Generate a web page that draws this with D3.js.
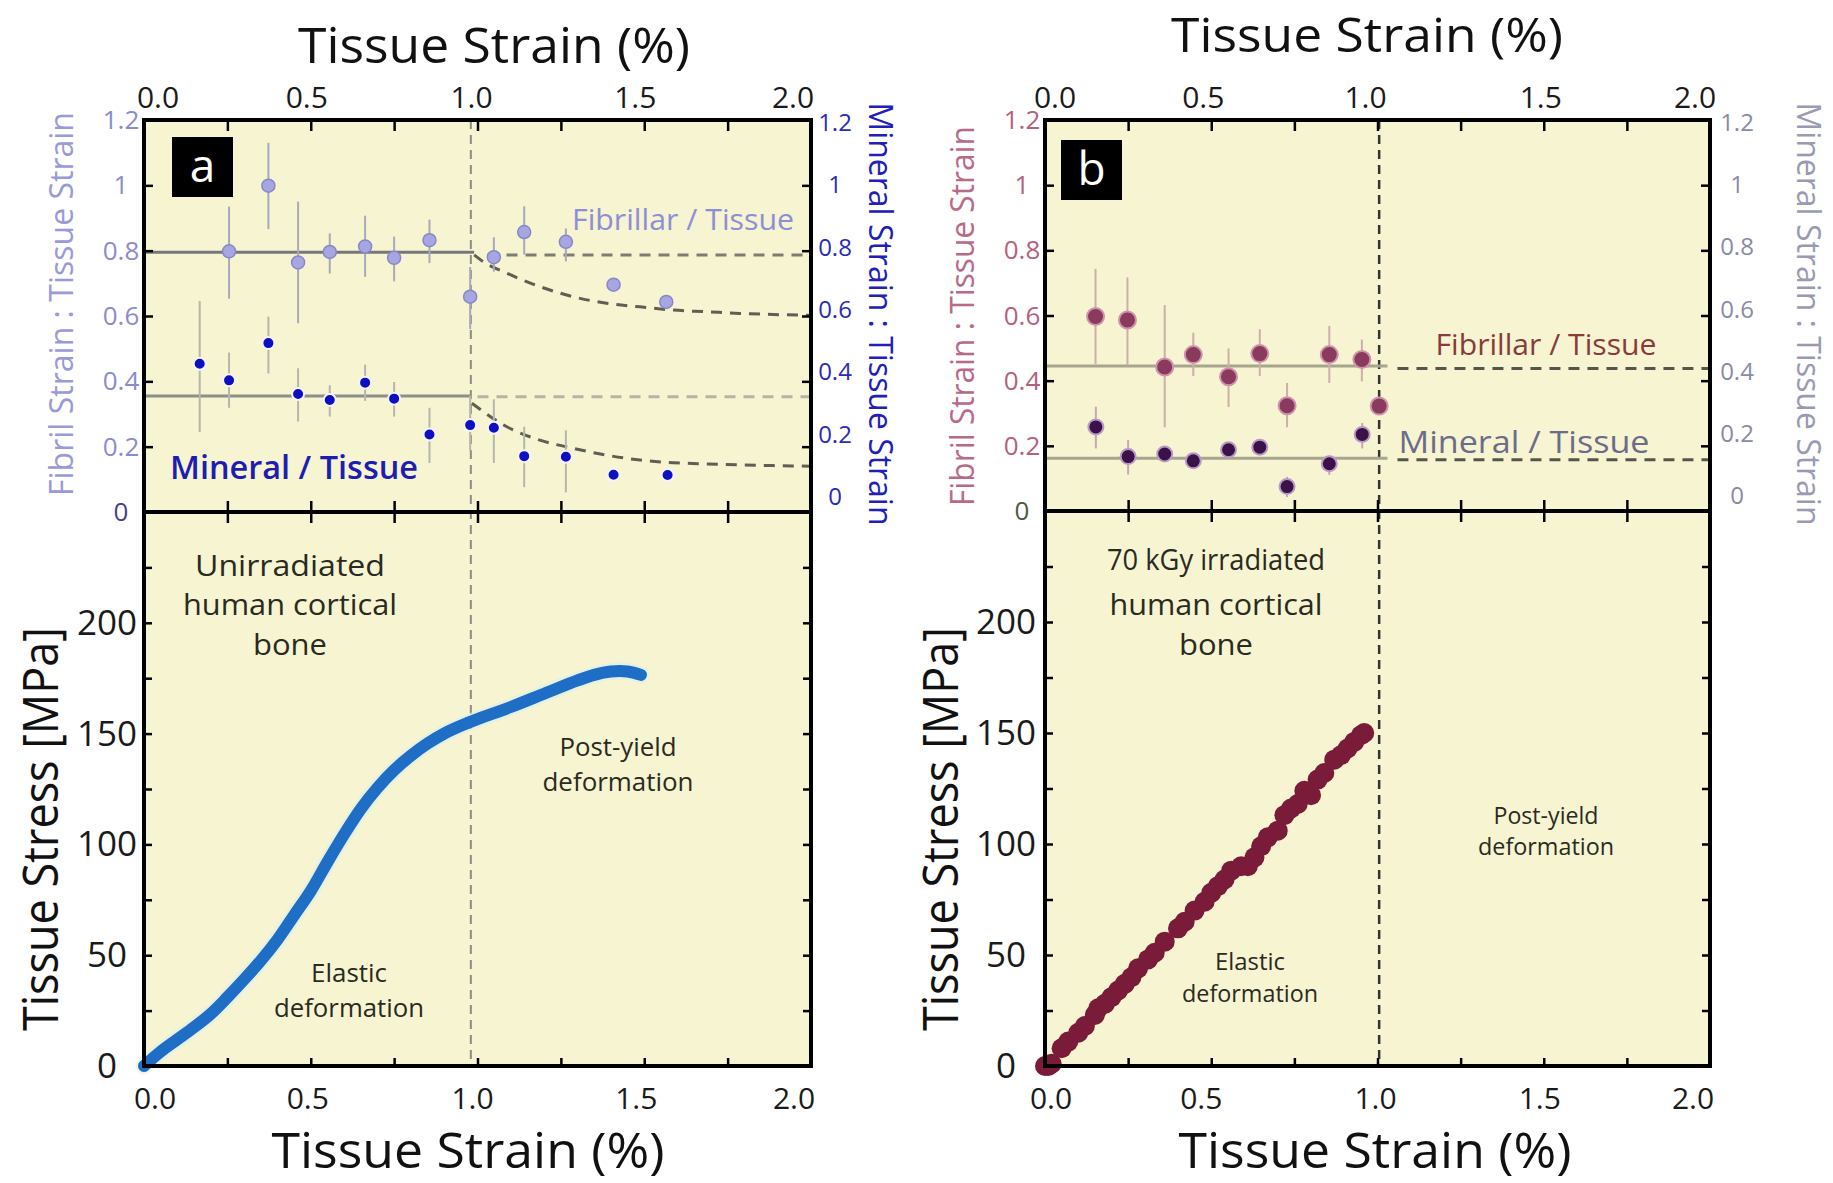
<!DOCTYPE html>
<html><head><meta charset="utf-8">
<script src="https://cdn.jsdelivr.net/npm/d3@7"></script>
<style>
body{margin:0;background:#fff}
svg{display:block}
text{font-family:'Open Sans',sans-serif}
</style>
</head><body>
<svg id="c" width="1833" height="1183"></svg>
<script>
// ---------------- DATA ----------------
const strainTicks = [0, 0.5, 1.0, 1.5, 2.0];
const strainTickLabels = ["0.0", "0.5", "1.0", "1.5", "2.0"];
const strainMinorTicks = [0, 0.25, 0.5, 0.75, 1.0, 1.25, 1.5, 1.75, 2.0];
const ratioTicks = [0, 0.2, 0.4, 0.6, 0.8, 1.0, 1.2];
const ratioTickLabels = ["0", "0.2", "0.4", "0.6", "0.8", "1", "1.2"];
const stressTicks = [0, 50, 100, 150, 200];
const stressTickLabels = ["0", "50", "100", "150", "200"];
const stressMinorTicks = [0, 25, 50, 75, 100, 125, 150, 175, 200, 225, 250];

// Panel a – fibrillar / tissue strain ratio
const aFibX  = [0.255, 0.373, 0.462, 0.557, 0.663, 0.750, 0.856, 0.978, 1.049, 1.140, 1.265, 1.408, 1.566];
const aFibY  = [0.798, 0.999, 0.764, 0.796, 0.813, 0.778, 0.832, 0.659, 0.780, 0.857, 0.827, 0.696, 0.643];
const aFibHi = [0.935, 1.130, 0.950, 0.853, 0.907, 0.843, 0.895, 0.750, 0.841, 0.936, 0.868, 0.696, 0.643];
const aFibLo = [0.653, 0.866, 0.578, 0.730, 0.720, 0.706, 0.762, 0.560, 0.736, 0.788, 0.767, 0.696, 0.643];
// Panel a – mineral / tissue strain ratio
const aMinX  = [0.167, 0.255, 0.373, 0.462, 0.557, 0.663, 0.750, 0.856, 0.978, 1.049, 1.140, 1.265, 1.408, 1.570];
const aMinY  = [0.454, 0.403, 0.517, 0.361, 0.343, 0.396, 0.347, 0.237, 0.266, 0.258, 0.171, 0.169, 0.114, 0.113];
const aMinHi = [0.646, 0.488, 0.598, 0.440, 0.388, 0.451, 0.398, 0.319, 0.356, 0.345, 0.261, 0.250, 0.114, 0.113];
const aMinLo = [0.245, 0.319, 0.424, 0.277, 0.292, 0.340, 0.292, 0.150, 0.187, 0.150, 0.076, 0.060, 0.114, 0.113];
// Panel a – fitted lines
const aFibMean = 0.795, aFibMeanPost = 0.787;
const aMinMean = 0.355, aMinMeanPost = 0.353;
const aFibDecayX = [0.99, 1.017, 1.088, 1.187, 1.287, 1.387, 1.487, 1.587, 1.687, 1.787, 2.0];
const aFibDecayY = [0.787, 0.766, 0.731, 0.690, 0.659, 0.639, 0.628, 0.618, 0.613, 0.608, 0.602];
const aMinDecayX = [0.983, 1.088, 1.187, 1.287, 1.387, 1.487, 1.587, 1.687, 1.887, 2.0];
const aMinDecayY = [0.333, 0.261, 0.220, 0.195, 0.174, 0.159, 0.151, 0.147, 0.142, 0.140];
const aYieldStrain = 0.98;
// Panel a – stress-strain curve (unirradiated)
const aStrain = [0, 0.05, 0.1, 0.15, 0.2, 0.25, 0.3, 0.35, 0.4, 0.45, 0.5, 0.55, 0.6, 0.65, 0.7, 0.75, 0.8, 0.85, 0.9, 0.95, 1.0, 1.1, 1.2, 1.3, 1.35, 1.4, 1.45, 1.49];
const aStress = [0, 6.5, 12, 17.5, 23.5, 31, 39, 47.5, 57, 68, 79, 92, 104.5, 116, 125.5, 133.5, 140, 145.5, 150, 153.5, 156.5, 162, 168, 174, 176.5, 178, 178, 176.5];

// Panel b – fibrillar / tissue strain ratio
const bFibX  = [0.152, 0.248, 0.360, 0.446, 0.552, 0.646, 0.728, 0.855, 0.953, 1.005];
const bFibY  = [0.597, 0.586, 0.442, 0.480, 0.412, 0.483, 0.323, 0.480, 0.465, 0.322];
const bFibHi = [0.743, 0.717, 0.632, 0.547, 0.499, 0.558, 0.393, 0.568, 0.526, 0.322];
const bFibLo = [0.451, 0.446, 0.257, 0.414, 0.319, 0.414, 0.257, 0.393, 0.398, 0.322];
// Panel b – mineral / tissue strain ratio
const bMinX  = [0.153, 0.250, 0.360, 0.446, 0.552, 0.646, 0.728, 0.855, 0.954];
const bMinY  = [0.258, 0.167, 0.175, 0.154, 0.188, 0.196, 0.075, 0.145, 0.235];
const bMinHi = [0.320, 0.218, 0.190, 0.160, 0.205, 0.215, 0.105, 0.170, 0.270];
const bMinLo = [0.192, 0.112, 0.160, 0.148, 0.170, 0.180, 0.043, 0.111, 0.192];
const bFibMean = 0.445, bFibMeanPost = 0.437;
const bMinMean = 0.162, bMinMeanPost = 0.157;
const bYieldStrain = 1.005;
// Panel b – stress-strain points (70 kGy irradiated)
const bStrain = [0.00, 0.01, 0.02, 0.05, 0.07, 0.10, 0.12, 0.15, 0.16, 0.18, 0.20, 0.22, 0.24, 0.26, 0.28, 0.31, 0.33, 0.36, 0.40, 0.42, 0.45, 0.48, 0.50, 0.52, 0.54, 0.56, 0.59, 0.61, 0.63, 0.65, 0.67, 0.70, 0.72, 0.74, 0.76, 0.78, 0.80, 0.82, 0.84, 0.87, 0.89, 0.91, 0.93, 0.95, 0.96];
const bStress = [0, 0, 1, 8, 11, 15, 18, 23, 26, 28, 31, 34, 37, 40, 44, 48, 51, 56, 62, 65, 70, 74, 78, 81, 84, 88, 90, 90, 94, 99, 103, 106, 113, 116, 118, 124, 122, 129, 132, 138, 140, 143, 146, 149, 150];

// ---------------- DRAWING ----------------
const svg = d3.select('#c');
svg.append('rect').attr('width', 1833).attr('height', 1183).attr('fill', '#fff');

function fit(sel, w) { sel.attr('textLength', w).attr('lengthAdjust', 'spacingAndGlyphs'); return sel; }
function zip(xs, ys) { return xs.map((v, i) => [v, ys[i]]); }

function drawPanel(c) {
  const g = svg.append('g');
  const x = d3.scaleLinear().domain([0, 2]).range([c.L, c.R]);
  const yU = d3.scaleLinear().domain([0, 1.2]).range([c.M, c.T]);
  const yRlab = d3.scaleLinear().domain([0, 1.2]).range([c.M - 15, c.T + 3]);
  const yS = d3.scaleLinear().domain([0, 250]).range([c.B, c.M]);

  g.append('rect').attr('x', c.L).attr('y', c.T).attr('width', c.R - c.L).attr('height', c.B - c.T).attr('fill', '#f6f4d1');

  // yield line
  g.append('line').attr('x1', x(c.yield)).attr('x2', x(c.yield)).attr('y1', c.T).attr('y2', c.B)
    .attr('stroke', c.yieldColor).attr('stroke-width', c.yieldWidth).attr('stroke-dasharray', '9,6');

  // fitted lines
  const line = d3.line().x(d => x(d[0])).y(d => yU(d[1]));
  const smooth = d3.line().x(d => x(d[0])).y(d => yU(d[1])).curve(d3.curveMonotoneX);
  c.solid.forEach(s => g.append('path').attr('d', line([[0, s.v], [s.end, s.v]])).attr('fill', 'none')
    .attr('stroke', s.color).attr('stroke-width', 3));
  c.dashed.forEach(s => g.append('path').attr('d', line([[s.start, s.v], [2, s.v]])).attr('fill', 'none')
    .attr('stroke', s.color).attr('stroke-width', 3).attr('stroke-dasharray', '11,8'));
  (c.decay || []).forEach(s => g.append('path').attr('d', smooth(zip(s.x, s.y))).attr('fill', 'none')
    .attr('stroke', s.color).attr('stroke-width', 3).attr('stroke-dasharray', '11,8'));

  // error bars and markers
  c.series.forEach(s => {
    s.x.forEach((xv, i) => {
      if (s.hi[i] - s.lo[i] > 0.005)
        g.append('line').attr('x1', x(xv)).attr('x2', x(xv)).attr('y1', yU(s.hi[i])).attr('y2', yU(s.lo[i]))
          .attr('stroke', s.err).attr('stroke-width', 2);
    });
    g.selectAll(null).data(zip(s.x, s.y)).enter().append('circle')
      .attr('cx', d => x(d[0])).attr('cy', d => yU(d[1])).attr('r', s.r)
      .attr('fill', s.fill).attr('stroke', s.stroke).attr('stroke-width', s.sw);
  });

  // stress-strain
  if (c.curve) {
    const cl = d3.line().x(d => x(d[0])).y(d => yS(d[1])).curve(d3.curveCatmullRom);
    const data = zip(c.curve.x, c.curve.y);
    g.append('path').attr('d', cl(data)).attr('fill', 'none').attr('stroke', '#dcefee').attr('stroke-width', 17)
      .attr('stroke-linecap', 'round').attr('opacity', 0.6);
    g.append('path').attr('d', cl(data)).attr('fill', 'none').attr('stroke', '#1d6ec4').attr('stroke-width', 12)
      .attr('stroke-linecap', 'round').attr('stroke-linejoin', 'round');
  }
  if (c.dots) {
    g.selectAll(null).data(zip(c.dots.x, c.dots.y)).enter().append('circle')
      .attr('cx', d => x(d[0])).attr('cy', d => yS(d[1])).attr('r', 10).attr('fill', '#7a1b3a');
  }

  // axes ticks (inward)
  const tk = (sel) => { sel.select('.domain').remove(); sel.selectAll('line').attr('stroke', '#000').attr('stroke-width', 2.5); sel.selectAll('text').remove(); };
  g.append('g').attr('transform', `translate(0,${c.T})`).call(d3.axisBottom(x).tickValues(strainMinorTicks).tickSize(11).tickFormat('')).call(tk);
  g.append('g').attr('transform', `translate(0,${c.M})`).call(d3.axisTop(x).tickValues(strainMinorTicks).tickSize(11).tickFormat('')).call(tk);
  g.append('g').attr('transform', `translate(0,${c.M})`).call(d3.axisBottom(x).tickValues(strainMinorTicks).tickSize(11).tickFormat('')).call(tk);
  g.append('g').attr('transform', `translate(0,${c.B})`).call(d3.axisTop(x).tickValues(strainMinorTicks).tickSize(8).tickFormat('')).call(tk);
  g.append('g').attr('transform', `translate(${c.L},0)`).call(d3.axisRight(yU).tickValues(ratioTicks).tickSize(9).tickFormat('')).call(tk);
  g.append('g').attr('transform', `translate(${c.R},0)`).call(d3.axisLeft(yU).tickValues(ratioTicks).tickSize(9).tickFormat('')).call(tk);
  g.append('g').attr('transform', `translate(${c.L},0)`).call(d3.axisRight(yS).tickValues(stressMinorTicks).tickSize(8).tickFormat('')).call(tk);
  g.append('g').attr('transform', `translate(${c.R},0)`).call(d3.axisLeft(yS).tickValues(stressMinorTicks).tickSize(8).tickFormat('')).call(tk);

  // frame
  g.append('rect').attr('x', c.L).attr('y', c.T).attr('width', c.R - c.L).attr('height', c.B - c.T)
    .attr('fill', 'none').attr('stroke', '#000').attr('stroke-width', 4);
  g.append('line').attr('x1', c.L).attr('x2', c.R).attr('y1', c.M).attr('y2', c.M).attr('stroke', '#000').attr('stroke-width', 4);

  // tick labels
  strainTicks.forEach((v, i) => {
    g.append('text').attr('x', x(v) + c.topShift[i]).attr('y', 108).attr('text-anchor', 'middle')
      .attr('font-size', 30).attr('fill', '#1a1a1a').text(strainTickLabels[i]);
    g.append('text').attr('x', x(v) + c.botShift[i]).attr('y', 1109).attr('text-anchor', 'middle')
      .attr('font-size', 30).attr('fill', '#1a1a1a').text(strainTickLabels[i]);
  });
  ratioTicks.forEach((v, i) => {
    g.append('text').attr('x', c.L - 23).attr('y', yU(v) + 9).attr('text-anchor', 'middle')
      .attr('font-size', 26).attr('fill', i === 0 ? c.leftZero : c.leftTickColor).text(ratioTickLabels[i]);
    g.append('text').attr('x', c.R + c.rightLabDx).attr('y', yRlab(v) + 8).attr('text-anchor', 'middle')
      .attr('font-size', 24).attr('fill', c.rightTickColor).text(ratioTickLabels[i]);
  });
  stressTicks.forEach((v, i) => {
    g.append('text').attr('x', c.L - c.stressLabDx).attr('y', yS(v) + 12).attr('text-anchor', 'middle')
      .attr('font-size', 35).attr('fill', '#1a1a1a').text(stressTickLabels[i]);
  });

  // axis titles
  fit(g.append('text').attr('x', c.topTitle[0]).attr('y', c.topTitle[1]).attr('text-anchor', 'middle')
    .attr('font-size', c.topTitle[2]).attr('fill', '#111').text('Tissue Strain (%)'), 392);
  fit(g.append('text').attr('x', c.botTitle[0]).attr('y', 1168).attr('text-anchor', 'middle')
    .attr('font-size', 50).attr('fill', '#111').text('Tissue Strain (%)'), 393);
  fit(g.append('text').attr('transform', `translate(${c.leftTitle[0]},${c.leftTitle[1]}) rotate(-90)`).attr('text-anchor', 'middle')
    .attr('font-size', 32).attr('fill', c.leftTitleColor).text('Fibril Strain : Tissue Strain'), c.leftTitle[2]);
  fit(g.append('text').attr('transform', `translate(${c.rightTitle[0]},${c.rightTitle[1]}) rotate(90)`).attr('text-anchor', 'middle')
    .attr('font-size', 32).attr('fill', c.rightTitleColor).text('Mineral Strain : Tissue Strain'), 423);
  fit(g.append('text').attr('transform', `translate(${c.stressTitleX},829) rotate(-90)`).attr('text-anchor', 'middle')
    .attr('font-size', 50).attr('fill', '#111').text('Tissue Stress [MPa]'), 404);

  // panel letter
  g.append('rect').attr('x', c.box[0]).attr('y', c.box[1]).attr('width', 61).attr('height', 60).attr('fill', '#000');
  g.append('text').attr('x', c.box[0] + 30.5).attr('y', c.box[1] + 45).attr('text-anchor', 'middle')
    .attr('font-size', 46).attr('fill', '#fff').text(c.letter);

  // annotations
  c.notes.forEach(n => {
    n.lines.forEach((t, i) => {
      const el = g.append('text').attr('x', n.x).attr('y', n.y[i]).attr('text-anchor', 'middle')
        .attr('font-size', n.size).attr('fill', n.color).attr('font-weight', n.weight || 400).text(t);
      if (n.w && n.w[i]) fit(el, n.w[i]);
    });
  });
}

drawPanel({
  L: 144, R: 811, T: 120, M: 512, B: 1066, letter: 'a', box: [172, 137],
  yield: aYieldStrain, yieldColor: '#8c8c84', yieldWidth: 2,
  solid: [{ v: aFibMean, end: 0.99, color: '#77777a' }, { v: aMinMean, end: 0.98, color: '#8e8e88' }],
  dashed: [{ v: aFibMeanPost, start: 1.03, color: '#7c7c70' }, { v: aMinMeanPost, start: 1.0, color: '#b4b4a4' }],
  decay: [{ x: aFibDecayX, y: aFibDecayY, color: '#5e5e52' }, { x: aMinDecayX, y: aMinDecayY, color: '#5e5e52' }],
  series: [
    { x: aFibX, y: aFibY, hi: aFibHi, lo: aFibLo, r: 6.5, fill: '#a6a6e2', stroke: '#8888c6', sw: 1.5, err: '#a9a9bb' },
    { x: aMinX, y: aMinY, hi: aMinHi, lo: aMinLo, r: 6, fill: '#0f0fc2', stroke: '#f4f4ff', sw: 2, err: '#b6b6aa' }
  ],
  curve: { x: aStrain, y: aStress },
  topShift: [14, -4, -6, -9, -18], botShift: [11, -3, -5, -8, -17],
  leftTickColor: '#8b8bd0', leftZero: '#4b3c8c', rightTickColor: '#2b2bb8', rightLabDx: 24,
  stressLabDx: 37, stressTitleX: 58,
  leftTitle: [73, 304, 384], leftTitleColor: '#9a9ad8',
  rightTitle: [869, 314], rightTitleColor: '#2020b8',
  topTitle: [494, 63, 50], botTitle: [468, 1168],
  notes: [
    { x: 572 + 111, y: [230], lines: ['Fibrillar / Tissue'], size: 30, color: '#8e8ed6', w: [222] },
    { x: 294, y: [479], lines: ['Mineral / Tissue'], size: 32, color: '#1d1db0', weight: 600, w: [248] },
    { x: 290, y: [576, 615, 655], lines: ['Unirradiated', 'human cortical', 'bone'], size: 30, color: '#2a2a22', w: [190, 214, 74] },
    { x: 618, y: [756, 791], lines: ['Post-yield', 'deformation'], size: 26, color: '#2a2a22', w: [117, 151] },
    { x: 349, y: [982, 1017], lines: ['Elastic', 'deformation'], size: 26, color: '#2a2a22', w: [76, 150] }
  ]
});

drawPanel({
  L: 1045, R: 1710, T: 120, M: 511, B: 1066, letter: 'b', box: [1061, 140],
  yield: bYieldStrain, yieldColor: '#333330', yieldWidth: 2.5,
  solid: [{ v: bFibMean, end: 1.03, color: '#a6a68e' }, { v: bMinMean, end: 1.03, color: '#a6a68e' }],
  dashed: [{ v: bFibMeanPost, start: 1.06, color: '#55554a' }, { v: bMinMeanPost, start: 1.06, color: '#55554a' }],
  decay: [],
  series: [
    { x: bFibX, y: bFibY, hi: bFibHi, lo: bFibLo, r: 8.5, fill: '#8a3a5c', stroke: '#cf93ad', sw: 2, err: '#cbb0a8' },
    { x: bMinX, y: bMinY, hi: bMinHi, lo: bMinLo, r: 7.5, fill: '#3b1149', stroke: '#b89ac6', sw: 2, err: '#c4aab0' }
  ],
  dots: { x: bStrain, y: bStress },
  topShift: [10, -8, -12, -3, -15], botShift: [6, -10, -2, -4, -17],
  leftTickColor: '#b3627c', leftZero: '#4a5a44', rightTickColor: '#8a8aa8', rightLabDx: 27,
  stressLabDx: 39, stressTitleX: 958,
  leftTitle: [974, 316, 380], leftTitleColor: '#b86a88',
  rightTitle: [1797, 314], rightTitleColor: '#9a9ab4',
  topTitle: [1367, 52, 47], botTitle: [1375, 1168],
  notes: [
    { x: 1546, y: [355], lines: ['Fibrillar / Tissue'], size: 30, color: '#8a3a3a', w: [221] },
    { x: 1524, y: [453], lines: ['Mineral / Tissue'], size: 31, color: '#6c6c8a', w: [251] },
    { x: 1216, y: [570, 615, 655], lines: ['70 kGy irradiated', 'human cortical', 'bone'], size: 30, color: '#2a2a22', w: [218, 213, 74] },
    { x: 1546, y: [824, 855], lines: ['Post-yield', 'deformation'], size: 23, color: '#2a2a22', w: [105, 136] },
    { x: 1250, y: [970, 1002], lines: ['Elastic', 'deformation'], size: 23, color: '#2a2a22', w: [70, 136] }
  ]
});
</script>
</body></html>
